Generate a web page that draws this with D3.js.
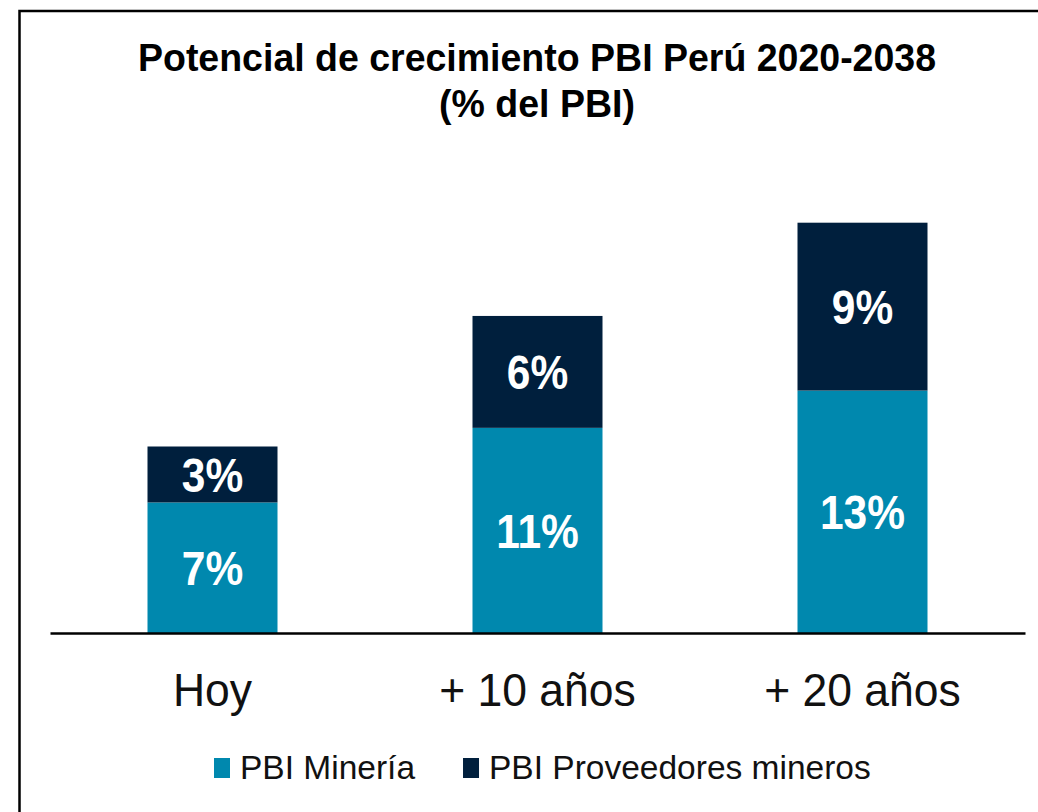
<!DOCTYPE html>
<html>
<head>
<meta charset="utf-8">
<script src="https://cdn.jsdelivr.net/npm/d3@7"></script>
<style>
  body { margin: 0; background: #fff; }
  text { font-family: "Liberation Sans", Arial, sans-serif; }
</style>
</head>
<body>
<div id="chart"></div>
<script>
// data (% del PBI)
const categories = ["Hoy", "+ 10 años", "+ 20 años"];
const mineria = [7, 11, 13];
const proveedores = [3, 6, 9];
const seriesNames = ["PBI Minería", "PBI Proveedores mineros"];
const titleLines = ["Potencial de crecimiento PBI Perú 2020-2038", "(% del PBI)"];

function drawChart() {
    const W = 1038, H = 812;
    const colors = ["#0088ae", "#001f3d"];
    const baseY = 633;

    const svg = d3.select("#chart").append("svg")
        .attr("width", W)
        .attr("height", H);

    svg.append("rect")
        .attr("width", W).attr("height", H)
        .attr("fill", "#fff");

    // frame (runs off right and bottom edges)
    svg.append("rect")
        .attr("x", 19.5).attr("y", 11)
        .attr("width", W + 20).attr("height", H + 20)
        .attr("fill", "none")
        .attr("stroke", "#000")
        .attr("stroke-width", 2.5);

    // title, a bit taller than plain Arial like the original
    svg.append("g").selectAll("text")
        .data(titleLines)
        .enter().append("text")
        .attr("transform", (d, i) => `translate(537,${71 + i * 46}) scale(1,1.05)`)
        .attr("text-anchor", "middle")
        .attr("font-weight", "bold")
        .attr("font-size", "37.5px")
        .attr("fill", "#000")
        .text(d => d);

    const x = d3.scaleBand()
        .domain(categories)
        .range([50, 1025])
        .paddingInner(0.6)
        .paddingOuter(0.3);

    const y = d3.scaleLinear()
        .domain([0, 22])
        .range([baseY, baseY - 22 * 18.65]);

    const rows = categories.map((c, i) => ({cat: c, m: mineria[i], p: proveedores[i]}));
    const stack = d3.stack().keys(["m", "p"])(rows);

    const layers = svg.append("g").selectAll("g")
        .data(stack)
        .enter().append("g")
        .attr("fill", (d, i) => colors[i]);

    layers.selectAll("rect")
        .data(d => d)
        .enter().append("rect")
        .attr("x", d => x(d.data.cat))
        .attr("y", d => y(d[1]))
        .attr("width", x.bandwidth())
        .attr("height", d => y(d[0]) - y(d[1]));

    layers.selectAll("text")
        .data(d => d)
        .enter().append("text")
        .attr("transform", d => `translate(${x(d.data.cat) + x.bandwidth() / 2},${(y(d[0]) + y(d[1])) / 2}) scale(1,1.12)`)
        .attr("dy", "0.36em")
        .attr("text-anchor", "middle")
        .attr("font-weight", "bold")
        .attr("font-size", "42.5px")
        .attr("fill", "#fff")
        .text(d => Math.round(d[1] - d[0]) + "%");

    // baseline + category labels
    const axis = svg.append("g")
        .attr("transform", `translate(0,${baseY})`)
        .call(d3.axisBottom(x).tickSize(0).tickPadding(0));
    axis.select(".domain")
        .attr("stroke", "#000")
        .attr("stroke-width", 2.5);
    axis.selectAll(".tick text")
        .attr("y", 0)
        .attr("dy", null)
        .attr("transform", "translate(0,73) scale(1,1.05)")
        .attr("font-size", "44.5px")
        .attr("fill", "#111")
        .style("font-family", "'Liberation Sans', Arial, sans-serif");

    // legend
    const legend = svg.append("g").attr("transform", "translate(214,768)");
    let lx = 0;
    seriesNames.forEach((name, i) => {
        const item = legend.append("g").attr("transform", `translate(${lx},0)`);
        item.append("rect")
            .attr("x", 0).attr("y", -10)
            .attr("width", 16).attr("height", 20)
            .attr("fill", colors[i]);
        const t = item.append("text")
            .attr("x", 26).attr("y", 11)
            .attr("font-size", "33.5px")
            .attr("fill", "#111")
            .text(name);
        lx += 26 + t.node().getComputedTextLength() + 48;
    });
}

drawChart();
</script>
</body>
</html>
